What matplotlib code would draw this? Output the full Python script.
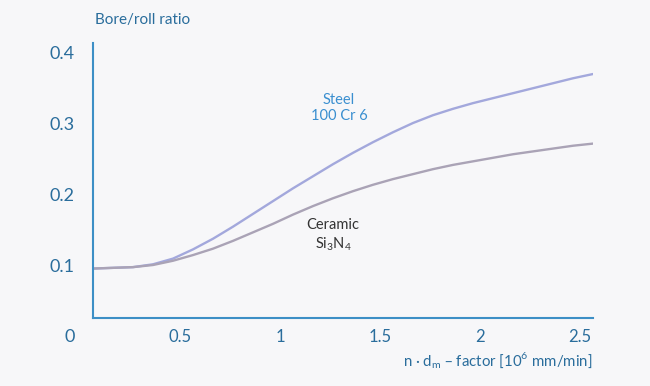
"""Bore/roll ratio vs n*dm factor for steel and ceramic rolling elements."""
import matplotlib
matplotlib.use("Agg")
import matplotlib.pyplot as plt
import matplotlib.transforms as mtrans

# values
x_vals = [0.0, 0.1, 0.2, 0.3, 0.4, 0.5, 0.6, 0.7, 0.8, 0.9, 1.0, 1.1, 1.2,
          1.3, 1.4, 1.5, 1.6, 1.7, 1.8, 1.9, 2.0, 2.1, 2.2, 2.3, 2.4, 2.5]
steel = [0.095, 0.096, 0.097, 0.101, 0.109, 0.122, 0.137, 0.154, 0.172,
         0.190, 0.208, 0.225, 0.242, 0.258, 0.273, 0.287, 0.300, 0.311,
         0.320, 0.328, 0.335, 0.342, 0.349, 0.356, 0.363, 0.369]
ceramic = [0.095, 0.096, 0.097, 0.100, 0.106, 0.114, 0.123, 0.134, 0.146,
           0.158, 0.171, 0.183, 0.194, 0.204, 0.213, 0.221, 0.228, 0.235,
           0.241, 0.246, 0.251, 0.256, 0.260, 0.264, 0.268, 0.271]
x_ticks = [0.5, 1, 1.5, 2, 2.5]
x_ticklabels = ["0.5", "1", "1.5", "2", "2.5"]
y_ticks = [0, 0.1, 0.2, 0.3, 0.4]
y_ticklabels = ["0", "0.1", "0.2", "0.3", "0.4"]

BG = "#f7f7f9"
AXIS_BLUE = "#3d8fc6"
TICK_BLUE = "#2a6d9c"
LABEL_BLUE = "#3a8fd0"

plt.rcParams["font.family"] = ["Lato", "DejaVu Sans"]

fig = plt.figure(figsize=(6.5, 3.86), dpi=100, facecolor=BG)
ax = fig.add_axes([93 / 650, 50 / 386, 500 / 650, 293 / 386])
ax.set_facecolor(BG)

ax.plot(x_vals, steel, color="#a3a8dc", lw=1.7, solid_capstyle="round",
        solid_joinstyle="round")
ax.plot(x_vals, ceramic, color="#aaa3b6", lw=1.7, solid_capstyle="round",
        solid_joinstyle="round")

ax.set_xlim(0, 2.5)
ax.set_ylim(0, 0.4127)

for side in ("top", "right"):
    ax.spines[side].set_visible(False)
ax.spines["bottom"].set_position(("data", 0.025))
ax.spines["left"].set_bounds(0.025, 0.4127)
for side in ("bottom", "left"):
    ax.spines[side].set_color(AXIS_BLUE)
    ax.spines[side].set_linewidth(1.5)

ax.set_xticks(x_ticks)
ax.set_xticklabels(x_ticklabels)
ax.set_yticks(y_ticks)
ax.set_yticklabels(y_ticklabels)
ax.tick_params(axis="x", length=0, pad=8, labelsize=12, labelcolor=TICK_BLUE)
ax.tick_params(axis="y", length=0, pad=13, labelsize=13, labelcolor=TICK_BLUE)
shift = mtrans.ScaledTranslation(-13 / 100, 0, fig.dpi_scale_trans)
for lab in ax.get_xticklabels():
    lab.set_transform(lab.get_transform() + shift)

fig.text(95 / 650, 1 - 20 / 386, "Bore/roll ratio", color=TICK_BLUE,
         fontsize=11, ha="left", va="center")
fig.text(592 / 650, 1 - 366 / 386,
         r"n · d$_{\mathregular{m}}$ – factor [10$^{\mathregular{6}}$ mm/min]",
         color=TICK_BLUE, fontsize=10.8, ha="right", va="baseline")

ax.text(1.23, 0.321, "Steel\n100 Cr 6", color=LABEL_BLUE, fontsize=10.5,
        ha="center", va="center", linespacing=1.2)
ax.text(1.2, 0.1415, "Ceramic\nSi$_{\\mathregular{3}}$N$_{\\mathregular{4}}$",
        color="#333333", fontsize=10.5, ha="center", va="center",
        linespacing=1.2)

fig.savefig("out.png", dpi=100, facecolor=BG)
